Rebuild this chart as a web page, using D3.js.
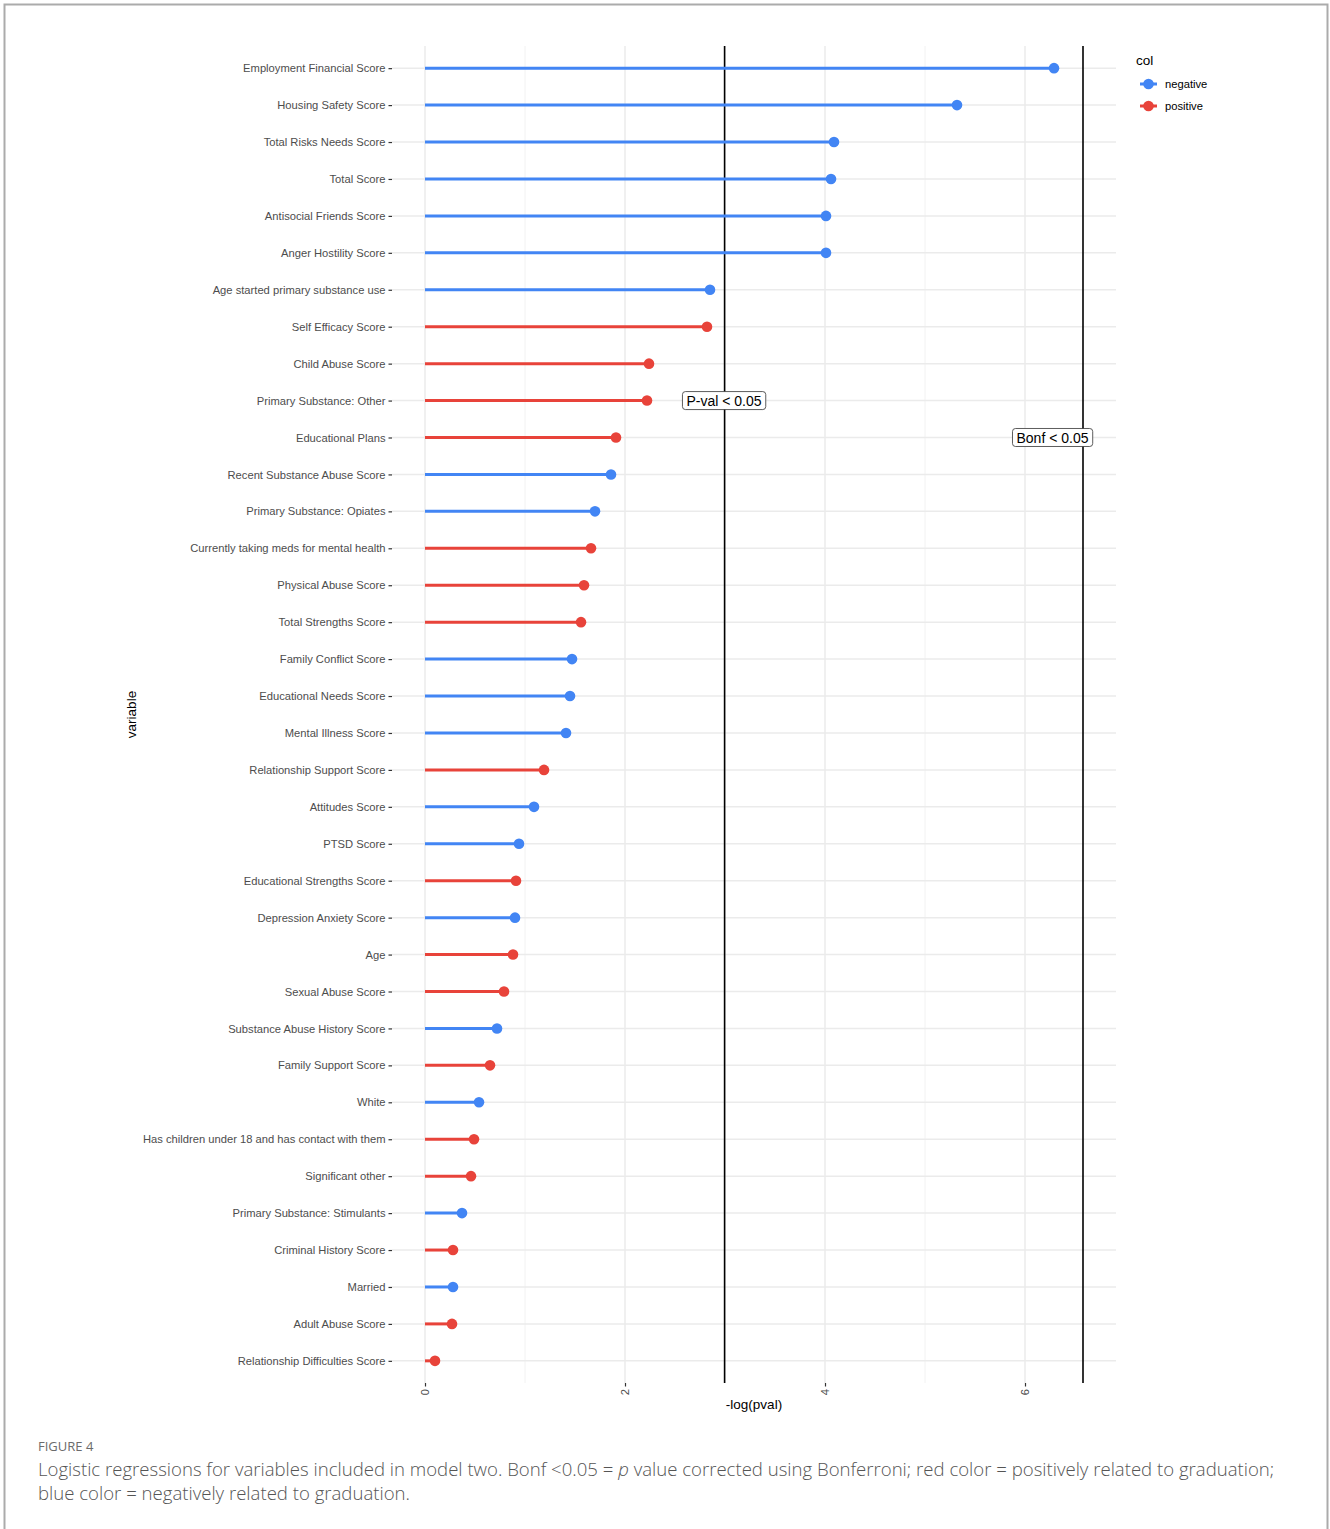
<!DOCTYPE html>
<html><head><meta charset="utf-8">
<script src="https://cdn.jsdelivr.net/npm/d3@7"></script>
<style>body{margin:0;background:#fff;} svg{display:block;}</style>
</head><body>
<script>
const categories = ["Employment Financial Score","Housing Safety Score","Total Risks Needs Score","Total Score","Antisocial Friends Score","Anger Hostility Score","Age started primary substance use","Self Efficacy Score","Child Abuse Score","Primary Substance: Other","Educational Plans","Recent Substance Abuse Score","Primary Substance: Opiates","Currently taking meds for mental health","Physical Abuse Score","Total Strengths Score","Family Conflict Score","Educational Needs Score","Mental Illness Score","Relationship Support Score","Attitudes Score","PTSD Score","Educational Strengths Score","Depression Anxiety Score","Age","Sexual Abuse Score","Substance Abuse History Score","Family Support Score","White","Has children under 18 and has contact with them","Significant other","Primary Substance: Stimulants","Criminal History Score","Married","Adult Abuse Score","Relationship Difficulties Score"];
const values = [6.29,5.32,4.09,4.06,4.01,4.01,2.85,2.82,2.24,2.22,1.91,1.86,1.70,1.66,1.59,1.56,1.47,1.45,1.41,1.19,1.09,0.94,0.91,0.90,0.88,0.79,0.72,0.65,0.54,0.49,0.46,0.37,0.28,0.28,0.27,0.10];
const direction = ["negative","negative","negative","negative","negative","negative","negative","positive","positive","positive","positive","negative","negative","positive","positive","positive","negative","negative","negative","positive","negative","negative","positive","negative","positive","positive","negative","positive","negative","positive","positive","negative","positive","negative","positive","positive"];
const xTicks = [0,2,4,6];
const xMinor = [1,3,5];
const pvalLine = 2.996;   // -log(0.05)
const bonfLine = 6.58;    // -log(0.05/36)
const refLabels = [{text:"P-val < 0.05", x:2.99, cat:"Primary Substance: Other"},{text:"Bonf < 0.05", x:6.275, cat:"Educational Plans"}];
const legendKeys = ["negative","positive"];
const colors = {negative:"#4285F4", positive:"#E8433A"};

const W = 1330, H = 1529;
const svg = d3.select("body").append("svg").attr("width",W).attr("height",H);
svg.append("rect").attr("width",W).attr("height",H).attr("fill","#fff");
svg.append("path").attr("d",`M4.5,${H} V4.5 H1327.5 V${H}`).attr("fill","none").attr("stroke","#ababab").attr("stroke-width",2);

const panel = {l:392, r:1116, t:46, b:1383};
const x = d3.scaleLinear().domain([-0.33, 6.91]).range([panel.l, panel.r]);
const y = d3.scalePoint().domain(categories).range([panel.t, panel.b]).padding(0.6);

const font = "'Liberation Sans', Arial, Helvetica, sans-serif";
const g = svg.append("g").attr("font-family", font);

// grid
g.append("g").selectAll("line").data(xMinor).join("line")
  .attr("x1",d=>x(d)).attr("x2",d=>x(d)).attr("y1",panel.t).attr("y2",panel.b)
  .attr("stroke","#f2f2f2").attr("stroke-width",1);
g.append("g").selectAll("line").data(xTicks).join("line")
  .attr("x1",d=>x(d)).attr("x2",d=>x(d)).attr("y1",panel.t).attr("y2",panel.b)
  .attr("stroke","#ebebeb").attr("stroke-width",1.5);
g.append("g").selectAll("line").data(categories).join("line")
  .attr("x1",panel.l).attr("x2",panel.r).attr("y1",d=>y(d)).attr("y2",d=>y(d))
  .attr("stroke","#ebebeb").attr("stroke-width",1.5);

// reference lines
[pvalLine,bonfLine].forEach(v=>{
  g.append("line").attr("x1",x(v)).attr("x2",x(v)).attr("y1",panel.t).attr("y2",panel.b)
   .attr("stroke","#000").attr("stroke-width",1.6);
});

// lollipops
const data = categories.map((c,i)=>({c, v:values[i], d:direction[i]}));
g.append("g").selectAll("line").data(data).join("line")
  .attr("x1",x(0)).attr("x2",d=>x(d.v)).attr("y1",d=>y(d.c)).attr("y2",d=>y(d.c))
  .attr("stroke",d=>colors[d.d]).attr("stroke-width",3);
g.append("g").selectAll("circle").data(data).join("circle")
  .attr("cx",d=>x(d.v)).attr("cy",d=>y(d.c)).attr("r",5.3)
  .attr("fill",d=>colors[d.d]);

// ref labels
refLabels.forEach(L=>{
  const lg = g.append("g");
  const t = lg.append("text").attr("x",x(L.x)).attr("y",y(L.cat)).attr("dy","0.36em")
    .attr("text-anchor","middle").attr("font-size",14).attr("fill","#000").text(L.text);
  const bb = t.node().getBBox();
  lg.insert("rect","text").attr("x",bb.x-4).attr("y",y(L.cat)-9).attr("width",bb.width+8).attr("height",18)
    .attr("rx",3).attr("fill","#fff").attr("stroke","#333").attr("stroke-width",0.8);
});

// y axis
const ya = g.append("g").attr("transform",`translate(${panel.l},0)`)
  .call(d3.axisLeft(y).tickSize(3.5).tickPadding(3));
ya.select(".domain").remove();
ya.selectAll(".tick line").attr("stroke","#333").attr("stroke-width",1.2);
ya.selectAll(".tick text").attr("font-size",11.2).attr("fill","#4d4d4d").attr("font-family",font);

// x axis
const xa = g.append("g").attr("transform",`translate(0,${panel.b})`)
  .call(d3.axisBottom(x).tickValues(xTicks).tickSize(3.5).tickFormat(d3.format("d")));
xa.select(".domain").remove();
xa.selectAll(".tick line").attr("stroke","#333").attr("stroke-width",1.2);
xa.selectAll(".tick text").attr("font-size",11.2).attr("fill","#4d4d4d").attr("font-family",font)
  .attr("transform","rotate(-90)").attr("text-anchor","end").attr("x",-6).attr("y",0).attr("dy","0.35em");

// axis titles
g.append("text").attr("x",(panel.l+panel.r)/2).attr("y",1409).attr("text-anchor","middle")
  .attr("font-size",13.5).attr("fill","#000").text("-log(pval)");
g.append("text").attr("transform",`translate(136,${(panel.t+panel.b)/2}) rotate(-90)`).attr("text-anchor","middle")
  .attr("font-size",13.5).attr("fill","#000").text("variable");

// legend
g.append("text").attr("x",1136).attr("y",65).attr("font-size",13.5).attr("fill","#000").text("col");
const leg = g.append("g").selectAll("g").data(legendKeys).join("g")
  .attr("transform",(d,i)=>`translate(1140,${84+i*22})`);
leg.append("line").attr("x1",0).attr("x2",17).attr("stroke",d=>colors[d]).attr("stroke-width",3);
leg.append("circle").attr("cx",8.5).attr("r",5.3).attr("fill",d=>colors[d]);
leg.append("text").attr("x",25).attr("dy","0.35em").attr("font-size",11.2).attr("fill","#000").text(d=>d);

// caption
const cf = "'Open Sans', 'Noto Sans', sans-serif";
svg.append("text").attr("x",38).attr("y",1451).attr("font-family",cf).attr("font-size",13)
  .attr("fill","#6b6b6b").text("FIGURE 4");
const c1 = svg.append("text").attr("x",38).attr("y",1476).attr("font-family",cf).attr("font-size",17)
  .attr("fill","#555").attr("font-weight",300);
c1.append("tspan").text("Logistic regressions for variables included in model two. Bonf <0.05 = ");
c1.append("tspan").attr("font-style","italic").text("p");
c1.append("tspan").text(" value corrected using Bonferroni; red color = positively related to graduation;");
const c2 = svg.append("text").attr("x",38).attr("y",1500).attr("font-family",cf).attr("font-size",17)
  .attr("fill","#555").attr("font-weight",300).text("blue color = negatively related to graduation.");
const w1 = c1.node().getComputedTextLength();
const s = 1237 / w1;
c1.attr("font-size",17*s); c2.attr("font-size",17*s);
</script>
</body></html>
